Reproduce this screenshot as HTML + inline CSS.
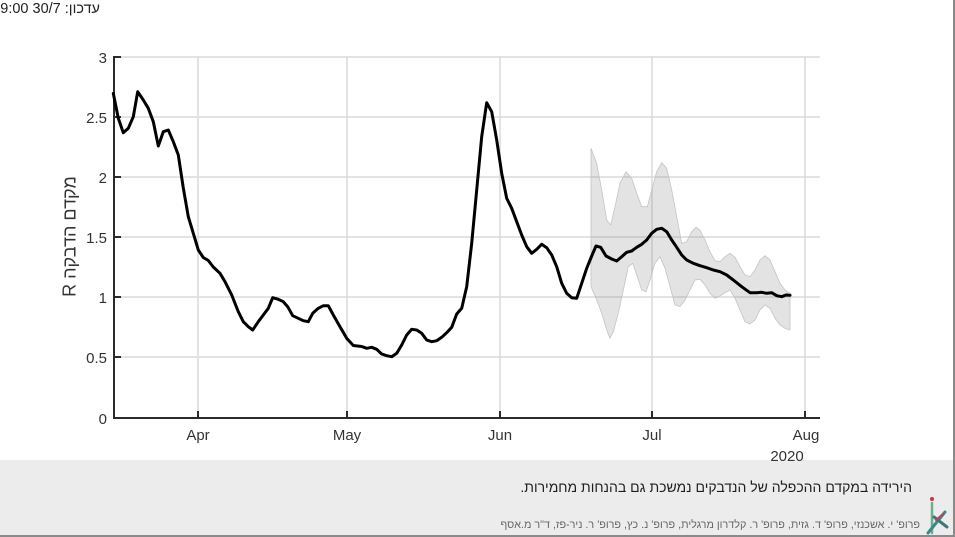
<!DOCTYPE html>
<html><head><meta charset="utf-8">
<style>
html,body{margin:0;padding:0;background:#fff;}
#w{position:relative;width:955px;height:537px;overflow:hidden;background:#fff;font-family:"Liberation Sans","DejaVu Sans",sans-serif;}
.t{position:absolute;white-space:nowrap;}
</style></head>
<body><div id="w">
<div style="position:absolute;left:0;top:460px;width:955px;height:77px;background:#ececec;"></div>
<div style="position:absolute;left:0;top:535px;width:955px;height:2px;background:#8a8a8a;"></div>
<div style="position:absolute;left:953px;top:0;width:2px;height:537px;background:#8a8a8a;"></div>
<svg width="955" height="537" style="position:absolute;left:0;top:0">
<g stroke="#dadada" stroke-width="1.5">
<line x1="114" y1="57" x2="820" y2="57"/>
<line x1="114" y1="117" x2="820" y2="117"/>
<line x1="114" y1="177" x2="820" y2="177"/>
<line x1="114" y1="237" x2="820" y2="237"/>
<line x1="114" y1="297" x2="820" y2="297"/>
<line x1="114" y1="357" x2="820" y2="357"/>
<line x1="198" y1="57" x2="198" y2="418"/>
<line x1="347" y1="57" x2="347" y2="418"/>
<line x1="500" y1="57" x2="500" y2="418"/>
<line x1="652" y1="57" x2="652" y2="418"/>
<line x1="805" y1="57" x2="805" y2="418"/>
</g>
<polygon fill="rgb(128,128,128)" fill-opacity="0.22" stroke="#c4c4c4" stroke-width="0.8" points="591,148.3 596.7,163.3 601.7,190 606.7,220 610.7,225 615,206.7 620,183.3 626,171.7 631.7,178.3 636.7,193.3 641.7,206.7 647.3,206.7 651.7,190 656.7,171.7 661.7,162.7 666.7,168.3 671.7,190 676.7,216.7 681.7,243.3 686.7,241.7 691.7,231.7 696,227.3 700,230 705,240 710,251.7 715,260.7 720,261.7 725,256.7 730,253.3 735,257.3 740,266.7 745,275 750,276.7 755,270 760,260 765,255.7 770,260 775,271.7 780,283.3 785,290 790,293.3 790,330 785,328.3 780,325 775,318.3 770,308.3 765,305 760,310 755,320 750,324 745,321.7 740,310 735,298.3 730,290 725,292.7 720,296 715,298.3 710,293.3 705,285 700,279.3 695,280 690,290 685,300 680,306.7 675,305 670,286.7 665,268.3 660,256.7 655,263.3 650,280 646,291.7 641.7,290 637.3,276.7 632.7,263.3 628.3,266.7 623.3,290 618.3,313.3 613.3,331.7 610,338.3 606.7,330 601.7,313.3 596.7,300 591,286.7"/>
<g stroke="#2b2b2b" stroke-width="2" fill="none">
<line x1="114" y1="56" x2="114" y2="419"/>
<line x1="113" y1="418" x2="820" y2="418"/>
<line x1="114" y1="57" x2="121" y2="57"/>
<line x1="114" y1="117" x2="121" y2="117"/>
<line x1="114" y1="177" x2="121" y2="177"/>
<line x1="114" y1="237" x2="121" y2="237"/>
<line x1="114" y1="297" x2="121" y2="297"/>
<line x1="114" y1="357" x2="121" y2="357"/>
<line x1="198" y1="418" x2="198" y2="411"/>
<line x1="347" y1="418" x2="347" y2="411"/>
<line x1="500" y1="418" x2="500" y2="411"/>
<line x1="652" y1="418" x2="652" y2="411"/>
<line x1="805" y1="418" x2="805" y2="411"/>
</g>
<polyline fill="none" stroke="#000" stroke-width="3" stroke-linejoin="round" stroke-linecap="round" points="113.3,93.3 118.3,118.3 123.3,132.7 128.3,128.3 133.3,116.7 137.7,91.7 143.3,100 148.3,108.3 153.3,121.7 158.3,146 163.3,131.7 168.3,130 173.3,141.7 178.3,155 183.3,188 188.3,216.7 193.3,233.3 198.3,250 203.3,257.5 208.3,260.5 213.3,267 220,273.3 225,281.7 231.7,295 238.3,311.7 243.3,321.7 248.3,326.7 252.7,330 258.3,321.7 263.3,315 268.3,308.3 272.7,297.7 278.3,299.3 283.3,301.7 287.7,306.7 292.7,315.7 298.3,318.3 303.3,320.7 308.3,321.7 312.7,313.3 318.3,308.3 323.3,305.7 328.3,305.7 333.3,315 340,326.7 346.7,338.3 353.3,345.5 361.7,346.5 366.7,348.3 371.7,347.3 376.7,349.3 381.7,354 386.7,355.7 391.7,356.7 396.7,353.3 401.7,345 406.7,335 411.7,329.3 416.7,330 421.7,333.3 426.7,340 431.7,341.7 436.7,340.7 441.7,337.3 446.7,332.7 451.7,327.3 456.7,314 461.7,308.3 466.7,286.7 471.7,243.3 476.7,190 481.7,136.7 486.7,102.7 491.7,111.7 496.7,140 501.7,173.3 506.7,198.3 511.7,208.3 516.7,221.7 521.7,235 526.7,246.7 531.7,253.3 536.7,249.3 541.7,244.3 546.7,247.7 551.7,255 556.7,266.7 561.7,283.3 566.7,293.3 571.7,297.7 576.7,298.3 581.7,283.3 586.7,268.3 591.7,256 596,246 600.7,247.3 606,256 611.7,259 616.7,261 621.7,256.7 626.7,252.3 631.7,251 636.7,247.3 641.7,244.3 646.7,240 651.7,233.3 656.7,229.3 661.7,228.3 666.7,231.7 671.7,240 676.7,247.3 681.7,255 686.7,260 693.3,263.3 700,265.7 706.7,267.7 713.3,270 720,271.7 726.7,275 733.3,280 741.7,286.7 750,292.7 756.7,292.7 761.7,292.3 766.7,293.3 771.7,292.7 776.7,295.7 781.7,296.7 786,295 790,295.3"/>
<g font-family="Liberation Sans, DejaVu Sans, sans-serif" font-size="15" fill="#333" text-anchor="end">
<text x="107" y="63">3</text>
<text x="107" y="123">2.5</text>
<text x="107" y="183">2</text>
<text x="107" y="243">1.5</text>
<text x="107" y="303">1</text>
<text x="107" y="363">0.5</text>
<text x="107" y="424">0</text>
</g>
<g font-family="Liberation Sans, DejaVu Sans, sans-serif" font-size="15" fill="#333" text-anchor="middle">
<text x="198" y="440">Apr</text>
<text x="347" y="440">May</text>
<text x="500" y="440">Jun</text>
<text x="652" y="440">Jul</text>
<text x="806" y="440">Aug</text>
<text x="787" y="461">2020</text>
</g>
<!-- logo -->
<g stroke-linecap="round">
<line x1="932" y1="503" x2="932" y2="533" stroke="#6ab08a" stroke-width="2.5"/>
<line x1="928" y1="533" x2="945" y2="512" stroke="#3a8a8a" stroke-width="3"/>
<line x1="934" y1="517" x2="947" y2="527" stroke="#3a7a7a" stroke-width="3"/>
<line x1="936" y1="520" x2="943" y2="514" stroke="#c04050" stroke-width="2"/>
<circle cx="932" cy="499" r="2" fill="#d03040"/>
</g>
</svg>
<div class="t" style="left:-2px;top:1px;width:102px;direction:rtl;text-align:right;font-size:14.5px;color:#222;">עדכון: 30/7 9:00</div>
<div class="t" style="left:-15px;top:226px;width:170px;text-align:center;font-size:18px;color:#333;direction:rtl;transform:rotate(-90deg);">מקדם הדבקה R</div>
<div class="t" style="left:480px;top:479px;width:432px;direction:rtl;text-align:right;font-size:14px;color:#1e1e1e;">הירידה במקדם ההכפלה של הנדבקים נמשכת גם בהנחות מחמירות.</div>
<div class="t" style="left:480px;top:519px;width:440px;direction:rtl;text-align:right;font-size:10.8px;color:#666;">פרופ' י. אשכנזי, פרופ' ד. גזית, פרופ' ר. קלדרון מרגלית, פרופ' נ. כץ, פרופ' ר. ניר-פז, ד"ר מ.אסף</div>
</div></body></html>
